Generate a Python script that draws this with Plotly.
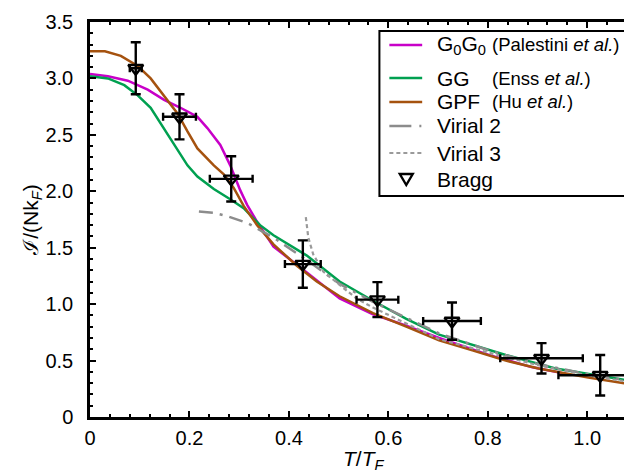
import plotly.graph_objects as go

# ---------------- data ----------------
gpf_x = [0.0, 0.03, 0.062, 0.096, 0.122, 0.152, 0.176, 0.196, 0.216, 0.249, 0.269, 0.289,
         0.309, 0.336, 0.369, 0.416, 0.456, 0.502, 0.569, 0.636, 0.702, 0.769, 0.836,
         0.902, 1.002, 1.1]
gpf_y = [3.24, 3.24, 3.20, 3.11, 3.00, 2.83, 2.69, 2.53, 2.38, 2.23, 2.15, 2.03,
         1.87, 1.70, 1.53, 1.34, 1.20, 1.07, 0.92, 0.80, 0.68, 0.59, 0.50,
         0.43, 0.35, 0.28]

g0g0_x = [0.0, 0.036, 0.076, 0.116, 0.149, 0.182, 0.216, 0.236, 0.262, 0.282, 0.302,
          0.316, 0.336, 0.369, 0.436, 0.502, 0.569, 0.636, 0.702, 0.802, 0.89, 0.96]
g0g0_y = [3.04, 3.02, 2.98, 2.90, 2.81, 2.74, 2.66, 2.56, 2.41, 2.23, 2.01,
          1.88, 1.73, 1.51, 1.28, 1.05, 0.91, 0.81, 0.70, 0.55, 0.44, 0.38]

gg_x = [0.0, 0.036, 0.069, 0.096, 0.122, 0.142, 0.162, 0.182, 0.196, 0.216, 0.249,
        0.282, 0.309, 0.342, 0.369, 0.436, 0.502, 0.569, 0.636, 0.702, 0.769, 0.836,
        0.936, 1.1]
gg_y = [3.02, 3.00, 2.94, 2.85, 2.74, 2.60, 2.47, 2.32, 2.23, 2.13, 2.02,
        1.93, 1.85, 1.70, 1.61, 1.43, 1.20, 1.03, 0.87, 0.73, 0.64, 0.55,
        0.43, 0.31]

vir2_x = [0.219, 0.249, 0.276, 0.316, 0.369, 0.436, 0.502, 0.569, 0.636, 0.702, 0.802, 0.9, 1.0, 1.1]
vir2_y = [1.82, 1.81, 1.78, 1.72, 1.59, 1.39, 1.18, 1.02, 0.88, 0.74, 0.59, 0.47, 0.38, 0.31]

vir3_x = [0.434, 0.436, 0.439, 0.449, 0.469, 0.502, 0.536, 0.569, 0.636, 0.702, 0.802, 0.9, 1.0, 1.1]
vir3_y = [1.77, 1.68, 1.59, 1.44, 1.29, 1.17, 1.05, 0.97, 0.83, 0.69, 0.57, 0.46, 0.37, 0.30]

bragg_x = [0.092, 0.18, 0.284, 0.428, 0.578, 0.728, 0.908, 1.026]
bragg_y = [3.09, 2.66, 2.11, 1.355, 1.04, 0.85, 0.52, 0.37]
bragg_yerr = [0.23, 0.20, 0.20, 0.21, 0.155, 0.165, 0.135, 0.18]
bragg_xerr = [0.012, 0.033, 0.043, 0.036, 0.042, 0.058, 0.083, 0.084]

x_ticks = [0, 0.2, 0.4, 0.6, 0.8, 1.0]
x_ticktext = ["0", "0.2", "0.4", "0.6", "0.8", "1.0"]
y_ticks = [0, 0.5, 1.0, 1.5, 2.0, 2.5, 3.0, 3.5]
y_ticktext = ["0", "0.5", "1.0", "1.5", "2.0", "2.5", "3.0", "3.5"]

legend_main = ["G<sub>0</sub>G<sub>0</sub>", "GG", "GPF", "Virial 2", "Virial 3", "Bragg"]
legend_refs = ["(Palestini <i>et al.</i>)", "(Enss <i>et al.</i>)", "(Hu <i>et al.</i>)", "", "", ""]

x_title = "<i>T</i>/<i>T</i><sub><i>F</i></sub>"
y_title = "ℐ/(Nk<sub><i>F</i></sub>)"

# ---------------- figure ----------------
FONT = "Liberation Sans, Arial, sans-serif"
MAGENTA = "#C800C8"
GREEN = "#00A050"
BROWN = "#A5520F"
GRAY = "#8C8C8C"
GRAY3 = "#9A9A9A"

W, H = 632, 472
ML, MR, MT, MB = 82, 0, 14, 63
PW, PH = W - ML - MR, H - MT - MB


def px(xp):
    return (xp - ML) / PW


def py(yp):
    return (H - MB - yp) / PH


fig = go.Figure()

fig.add_trace(go.Scatter(x=g0g0_x, y=g0g0_y, mode="lines",
                         line=dict(color=MAGENTA, width=2.5), name="G0G0"))
fig.add_trace(go.Scatter(x=gg_x, y=gg_y, mode="lines",
                         line=dict(color=GREEN, width=2.5), name="GG"))
fig.add_trace(go.Scatter(x=gpf_x, y=gpf_y, mode="lines",
                         line=dict(color=BROWN, width=2.5), name="GPF"))
fig.add_trace(go.Scatter(x=vir2_x, y=vir2_y, mode="lines",
                         line=dict(color=GRAY, width=2.5, dash="14px,7px,3px,7px"),
                         name="Virial 2"))
fig.add_trace(go.Scatter(x=vir3_x, y=vir3_y, mode="lines",
                         line=dict(color=GRAY3, width=2.2, dash="4px,3px"),
                         name="Virial 3"))
fig.add_trace(go.Scatter(
    x=bragg_x, y=bragg_y, mode="markers",
    marker=dict(symbol="triangle-down-open", size=13, color="black",
                line=dict(color="black", width=2.4)),
    error_y=dict(type="data", array=bragg_yerr, color="black", thickness=2.4, width=5),
    error_x=dict(type="data", array=bragg_xerr, color="black", thickness=2.4, width=4),
    name="Bragg"))

axis_common = dict(
    showline=True, linecolor="black", linewidth=2.5, mirror="allticks",
    ticks="inside", ticklen=6, tickwidth=2, tickcolor="black",
    showgrid=False, zeroline=False,
    tickfont=dict(family=FONT, size=20, color="black"),
)

fig.update_xaxes(
    range=[0, 1.1], tickvals=x_ticks, ticktext=x_ticktext, ticklabelstandoff=1,
    minor=dict(ticks="inside", ticklen=3, tickwidth=1.5, tickcolor="black", dtick=0.04, tick0=0),
    **axis_common)
fig.update_yaxes(
    range=[0, 3.5], tickvals=y_ticks, ticktext=y_ticktext, ticklabelstandoff=10,
    minor=dict(ticks="inside", ticklen=3, tickwidth=1.5, tickcolor="black", dtick=0.1, tick0=0),
    title=dict(text=y_title, font=dict(family=FONT, size=21, color="black"), standoff=2),
    **axis_common)

# ---------------- legend (drawn as a framed box) ----------------
shapes = []
annotations = []
box_l, box_r, box_t, box_b = 373, 628, 23, 188
shapes.append(dict(type="rect", xref="paper", yref="paper",
                   x0=px(box_l), x1=px(box_r), y0=py(box_b), y1=py(box_t),
                   line=dict(color="black", width=2), fillcolor="white", layer="above"))
row_y = [37, 70, 94, 118, 145, 171]
row_style = [dict(color=MAGENTA, width=2.5, dash="solid"),
             dict(color=GREEN, width=2.5, dash="solid"),
             dict(color=BROWN, width=2.5, dash="solid"),
             dict(color=GRAY, width=2.5, dash="22px,8px,2px,40px"),
             dict(color=GRAY3, width=2.2, dash="4px,3px"),
             None]
for i, (main, ref) in enumerate(zip(legend_main, legend_refs)):
    yy = row_y[i]
    st = row_style[i]
    if st is not None:
        shapes.append(dict(type="line", xref="paper", yref="paper",
                           x0=px(383), x1=px(416), y0=py(yy), y1=py(yy),
                           line=st, layer="above"))
    else:
        shapes.append(dict(type="path", xref="paper", yref="paper",
                           path="M {a},{b} L {c},{b} L {d},{e} Z".format(
                               a=px(393.5), c=px(406.5), b=py(yy - 5), d=px(400), e=py(yy + 6)),
                           line=dict(color="black", width=2.4), fillcolor="white",
                           layer="above"))
    annotations.append(dict(xref="paper", yref="paper", x=px(429), y=py(yy),
                            xanchor="left", yanchor="middle", showarrow=False,
                            text=main, font=dict(family=FONT, size=21, color="black")))
    if ref:
        annotations.append(dict(xref="paper", yref="paper", x=px(484), y=py(yy),
                                xanchor="left", yanchor="middle", showarrow=False,
                                text=ref, font=dict(family=FONT, size=18.5, color="black")))

# x-axis title
annotations.append(dict(xref="paper", yref="paper", x=0.5, y=py(452),
                        xanchor="center", yanchor="middle", showarrow=False,
                        text=x_title, font=dict(family=FONT, size=21, color="black")))

fig.update_layout(
    width=W, height=H,
    margin=dict(l=ML, r=MR, t=MT, b=MB),
    plot_bgcolor="white", paper_bgcolor="white",
    font=dict(family=FONT, size=19, color="black"),
    showlegend=False,
    shapes=shapes, annotations=annotations,
)

fig.write_html("out.html")
